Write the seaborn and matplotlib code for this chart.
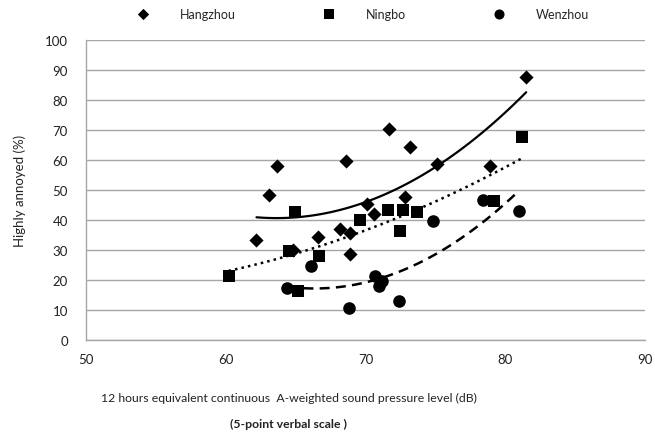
import numpy as np
import pandas as pd
import seaborn as sns
import matplotlib.pyplot as plt

# values
hz_x = [62.2, 63.1, 63.7, 64.8, 66.6, 68.2, 68.6, 68.9, 68.9, 70.1, 70.6,
        71.7, 72.8, 73.2, 75.1, 78.9, 81.5]
hz_y = [33.3, 48.3, 57.9, 30.1, 34.3, 37.0, 59.8, 35.7, 28.6, 45.4, 42.1,
        70.3, 47.6, 64.2, 58.7, 58.1, 87.8]

nb_x = [60.2, 64.5, 64.95, 65.2, 66.7, 69.6, 71.6, 72.5, 72.65, 73.7, 79.2, 81.2]
nb_y = [21.2, 29.8, 42.8, 16.3, 27.9, 39.9, 43.3, 36.4, 43.3, 42.8, 46.3, 67.8]

wz_x = [64.4, 66.1, 68.8, 70.7, 71.0, 71.2, 72.4, 74.8, 78.4, 81.0]
wz_y = [17.2, 24.8, 10.6, 21.3, 18.1, 19.8, 13.0, 39.7, 46.6, 43.1]

cities = ["Hangzhou", "Ningbo", "Wenzhou"]

df = pd.concat([
    pd.DataFrame({"x": hz_x, "y": hz_y, "city": "Hangzhou"}),
    pd.DataFrame({"x": nb_x, "y": nb_y, "city": "Ningbo"}),
    pd.DataFrame({"x": wz_x, "y": wz_y, "city": "Wenzhou"}),
])

sns.set_style("white")
plt.rcParams["font.family"] = ["Lato", "DejaVu Sans"]
fs = 9.5

fig = plt.figure(figsize=(6.55, 4.39), dpi=100)
ax = fig.add_axes([0.1313, 0.2232, 0.8534, 0.6834])

markers = {"Hangzhou": "D", "Ningbo": "s", "Wenzhou": "o"}
sizes = {"Hangzhou": 52, "Ningbo": 80, "Wenzhou": 82}
styles = {"Hangzhou": "-", "Ningbo": ":", "Wenzhou": (0, (4, 2.5))}

for c in cities:
    d = df[df["city"] == c]
    sns.scatterplot(data=d, x="x", y="y", marker=markers[c], s=sizes[c],
                    color="black", edgecolor="black", linewidth=0, ax=ax,
                    label=c, zorder=3)
    # 2nd order polynomial trend line like the original
    sns.regplot(data=d, x="x", y="y", order=2, ci=None, scatter=False,
                truncate=True, ax=ax, color="black",
                line_kws={"linestyle": styles[c],
                          "linewidth": 1.6 if c == "Hangzhou" else 1.8})

ax.set_xlim(50, 90)
ax.set_ylim(0, 100)
ax.set_xticks(range(50, 91, 10))
ax.set_yticks(range(0, 101, 10))
ax.grid(axis="y", color="#a6a6a6", linewidth=1)
ax.grid(axis="x", visible=False)
ax.set_axisbelow(True)
for s in ["top", "right"]:
    ax.spines[s].set_visible(False)
for s in ["left", "bottom"]:
    ax.spines[s].set_color("#a6a6a6")
    ax.spines[s].set_linewidth(1)
ax.tick_params(axis="both", which="major", direction="out", length=5,
               color="#a6a6a6", labelsize=fs, labelcolor="#222222")
ax.tick_params(axis="x", pad=4)
ax.tick_params(axis="y", pad=8)

ax.set_xlabel("12 hours equivalent continuous  A-weighted sound pressure level (dB)",
              fontsize=8.8, color="#222222")
ax.xaxis.set_label_coords(0.363, -0.173)
ax.set_ylabel("Highly annoyed (%)", fontsize=fs, color="#222222")
ax.yaxis.set_label_coords(-0.108, 0.5)
fig.text(289 / 655, 1 - 424 / 439, "(5-point verbal scale )", fontsize=8.8,
         fontweight="bold", ha="center", va="center", color="#222222")

ax.legend(loc="lower center", bbox_to_anchor=(0.49, 1.03), ncol=3,
          frameon=False, fontsize=9, columnspacing=6.4, handletextpad=2.0,
          markerscale=0.8)

fig.savefig("out.png", dpi=100)
